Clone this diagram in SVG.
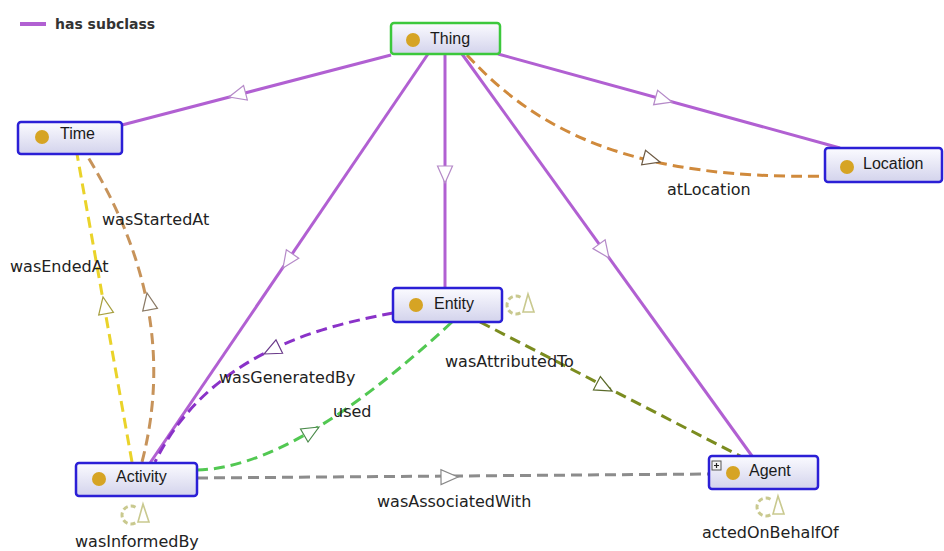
<svg xmlns="http://www.w3.org/2000/svg" xmlns:xlink="http://www.w3.org/1999/xlink" width="944" height="551" viewBox="0 0 944 551">
<style>
.node rect.box{fill:url(#ng);stroke:#2b1fd6;stroke-width:2.5}
.node text{font-family:"Liberation Sans",Arial,sans-serif;font-size:16px;fill:#1a1a1a}
.dot{fill:#d6a424}
.sub{stroke:#b160d2;stroke-width:3;fill:none}
.dash{stroke-width:3;fill:none;stroke-dasharray:11,6}
.lbl{font-family:"DejaVu Sans",Verdana,sans-serif;font-size:16px;fill:#222}
.loop path{fill:none;stroke:#c9c98f}
</style>
<defs>
<linearGradient id="ng" x1="0" y1="0" x2="0" y2="1">
<stop offset="0" stop-color="#fbfbff"/>
<stop offset="1" stop-color="#d3d3ec"/>
</linearGradient>
<path id="arr" d="M0,0 L-17,-7.5 L-17,7.5 Z" fill="#ffffff" stroke-width="1.2"/>
<g id="loop" class="loop">
<path d="M4.5,-7.8 A9,9 0 1 0 4.5,7.8" stroke-width="3" stroke-dasharray="5,3"/>
<path d="M12,-11 L7,7 L18,7 Z" stroke-width="1.6"/>
</g>
</defs>
<rect width="944" height="551" fill="#ffffff"/>

<g id="legend">
<line x1="20" y1="24" x2="46" y2="24" stroke="#b160d2" stroke-width="4"/>
<text x="55" y="29" font-family="DejaVu Sans,Verdana,sans-serif" font-size="14" font-weight="bold" fill="#333">has subclass</text>
</g>

<g id="connectors">
<!-- subclass edges -->
<line class="sub" x1="391" y1="55" x2="122" y2="125"/>
<use href="#arr" transform="translate(229,97) rotate(165.4)" stroke="#b58ac8"/>
<line class="sub" x1="428" y1="54" x2="150" y2="463"/>
<use href="#arr" transform="translate(283,268) rotate(124.2)" stroke="#b58ac8"/>
<line class="sub" x1="445" y1="54" x2="445" y2="288"/>
<use href="#arr" transform="translate(445,183) rotate(90)" stroke="#b58ac8"/>
<line class="sub" x1="462" y1="54" x2="752" y2="456"/>
<use href="#arr" transform="translate(609,258) rotate(54.2)" stroke="#b58ac8"/>
<line class="sub" x1="498" y1="54" x2="840" y2="148"/>
<use href="#arr" transform="translate(672,102) rotate(15.4)" stroke="#b58ac8"/>

<!-- object properties -->
<path class="dash" stroke="#d08a3c" d="M467,55 C540,135 640,180 826,176"/>
<use href="#arr" transform="translate(660,162) rotate(15)" stroke="#6d5a44"/>
<text class="lbl" x="667" y="195">atLocation</text>

<path class="dash" stroke="#c7935a" d="M142,462 Q182,308 86,154"/>
<use href="#arr" transform="translate(147,293) rotate(259.5)" stroke="#8a7a66"/>
<text class="lbl" x="102" y="225">wasStartedAt</text>

<path class="dash" stroke="#ead32a" d="M132,462 L77,154"/>
<use href="#arr" transform="translate(103,297) rotate(259.6)" stroke="#a8a040"/>
<text class="lbl" x="10" y="272">wasEndedAt</text>

<path class="dash" stroke="#8a32c8" d="M393,313 C330,325 210,350 155,462"/>
<use href="#arr" transform="translate(264,354) rotate(154)" stroke="#6a3a8a"/>
<text class="lbl" x="219" y="383">wasGeneratedBy</text>

<path class="dash" stroke="#52c852" d="M197,470 Q295,468 452,322"/>
<use href="#arr" transform="translate(319,427) rotate(-30)" stroke="#4a8a4a"/>
<text class="lbl" x="333" y="417">used</text>

<path class="dash" stroke="#7b8c1f" d="M480,322 L742,457"/>
<use href="#arr" transform="translate(612,391) rotate(27.4)" stroke="#5a6a2a"/>
<text class="lbl" x="445" y="367">wasAttributedTo</text>

<path class="dash" stroke="#8c8c8c" d="M197,478 L709,474"/>
<use href="#arr" transform="translate(458,477) rotate(-0.45)" stroke="#888888"/>
<text class="lbl" x="377" y="507">wasAssociatedWith</text>

<use href="#loop" transform="translate(516,305)"/>
<use href="#loop" transform="translate(131,515)"/>
<text class="lbl" x="75" y="547">wasInformedBy</text>
<use href="#loop" transform="translate(766,507)"/>
<text class="lbl" x="702" y="538">actedOnBehalfOf</text>
</g>

<g id="Thing" class="node">
<rect class="box" x="391" y="23" width="109" height="31" rx="3" style="stroke:#3cc83c"/>
<circle class="dot" cx="413" cy="40" r="7"/>
<text x="430" y="44">Thing</text>
</g>
<g id="Time" class="node">
<rect class="box" x="18" y="122" width="104" height="32" rx="3"/>
<circle class="dot" cx="42" cy="137" r="7"/>
<text x="60" y="139">Time</text>
</g>
<g id="Location" class="node">
<rect class="box" x="825" y="148" width="117" height="34" rx="3"/>
<circle class="dot" cx="847" cy="167" r="7"/>
<text x="863" y="169">Location</text>
</g>
<g id="Entity" class="node">
<rect class="box" x="393" y="288" width="109" height="34" rx="3"/>
<circle class="dot" cx="416" cy="305" r="7"/>
<text x="434" y="309">Entity</text>
</g>
<g id="Activity" class="node">
<rect class="box" x="76" y="463" width="121" height="33" rx="3"/>
<circle class="dot" cx="99" cy="479" r="7"/>
<text x="116" y="482">Activity</text>
</g>
<g id="Agent" class="node">
<rect class="box" x="709" y="456" width="109" height="33" rx="3"/>
<rect x="712" y="461" width="9" height="9" fill="#f4f4f4" stroke="#555" stroke-width="1"/>
<path d="M714,465.5 H719 M716.5,463 V468" stroke="#222" stroke-width="1.2"/>
<circle class="dot" cx="733" cy="473" r="7"/>
<text x="749" y="476">Agent</text>
</g>
</svg>
